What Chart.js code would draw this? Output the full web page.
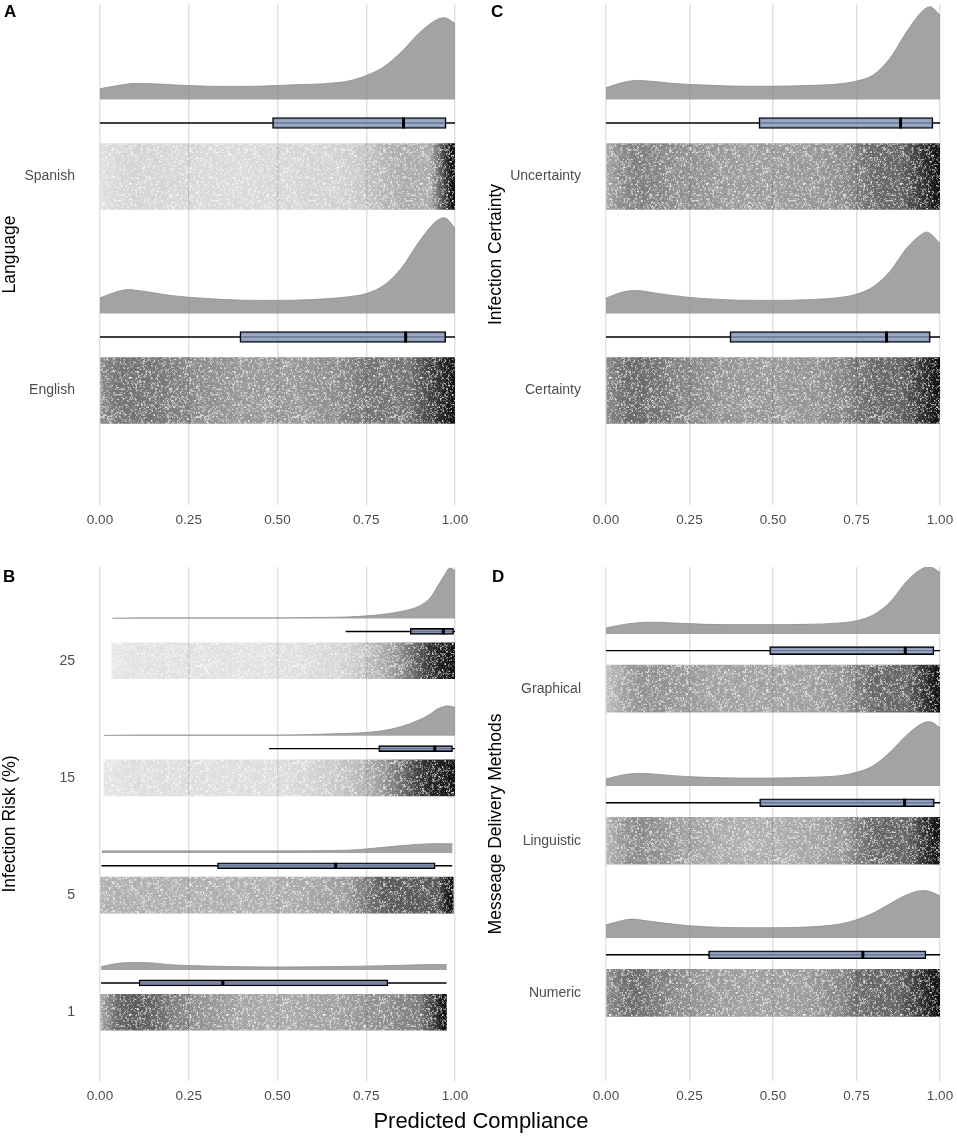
<!DOCTYPE html>
<html>
<head>
<meta charset="utf-8">
<script src="https://cdn.jsdelivr.net/npm/chart.js@4.4.1/dist/chart.umd.min.js"></script>
<style>
  body { margin: 0; width: 957px; height: 1137px; position: relative; overflow: hidden; background: #fff;
         font-family: "Liberation Sans", Arial, sans-serif; }
  .panel { position: absolute; }
  .tag { position: absolute; font-weight: bold; font-size: 17px; line-height: 17px; color: #000; }
  #xtitle { position: absolute; left: 0; width: 962px; top: 1108px; text-align: center;
            font-size: 22px; line-height: 26px; color: #000; }
</style>
</head>
<body>
<div class="panel" style="left:0;top:0;width:480px;height:540px"><canvas id="chartA"></canvas></div>
<div class="panel" style="left:480px;top:0;width:477px;height:540px"><canvas id="chartC"></canvas></div>
<div class="panel" style="left:0;top:540px;width:480px;height:576px"><canvas id="chartB"></canvas></div>
<div class="panel" style="left:480px;top:540px;width:477px;height:576px"><canvas id="chartD"></canvas></div>
<div class="tag" style="left:4px;top:3px">A</div>
<div class="tag" style="left:491px;top:3px">C</div>
<div class="tag" style="left:3px;top:568px">B</div>
<div class="tag" style="left:492px;top:568px">D</div>
<div id="xtitle">Predicted Compliance</div>
<script>
const xTicks = [0, 0.25, 0.5, 0.75, 1];

/* ---- A: language (rows listed bottom to top) ---- */
const langNames = ["English", "Spanish"];
// whisker low, q1, median, q3, whisker high
const langBox = [[0, 0.394, 0.861, 0.974, 1], [0, 0.486, 0.855, 0.975, 1]];
const langSpan = [[0, 1], [0, 1]];
const langDensEnglish = [[0,.073],[.05,.103],[.08,.112],[.1,.109],[.15,.097],[.2,.084],[.25,.076],[.3,.070],[.35,.065],[.4,.062],[.45,.061],[.5,.061],[.55,.062],[.6,.065],[.65,.070],[.7,.078],[.75,.093],[.8,.132],[.85,.214],[.9,.338],[.95,.435],[.97,.447],[1,.400]];
const langDensSpanish = [[0,.050],[.05,.065],[.1,.075],[.15,.073],[.2,.069],[.25,.065],[.3,.062],[.35,.061],[.4,.061],[.45,.062],[.5,.065],[.55,.069],[.6,.071],[.65,.076],[.7,.086],[.75,.112],[.8,.153],[.85,.224],[.9,.312],[.95,.374],[.97,.382],[1,.355]];

/* ---- B: infection risk ---- */
const riskNames = ["1", "5", "15", "25"];
const riskBox = [[0.003, 0.110, 0.346, 0.811, 0.976], [0.004, 0.331, 0.664, 0.944, 0.992], [0.476, 0.785, 0.943, 0.993, 1], [0.692, 0.874, 0.967, 0.996, 1]];
const riskSpan = [[0, 0.976], [0, 0.995], [0.011, 1], [0.033, 1]];
const riskDens1 = [[.003,.028],[.05,.057],[.1,.065],[.15,.060],[.2,.045],[.3,.034],[.4,.028],[.5,.026],[.6,.028],[.7,.031],[.8,.037],[.9,.045],[.95,.048],[.977,.045]];
const riskDens5 = [[.005,.017],[.25,.017],[.5,.017],[.7,.023],[.75,.034],[.8,.048],[.85,.062],[.9,.074],[.95,.079],[.993,.077]];
const riskDens15 = [[.012,.003],[.1,.006],[.2,.006],[.3,.006],[.4,.006],[.5,.006],[.6,.011],[.7,.020],[.75,.028],[.8,.045],[.85,.079],[.9,.136],[.93,.184],[.95,.227],[.97,.250],[.98,.255],[1,.241]];
const riskDens25 = [[.035,.003],[.1,.006],[.2,.006],[.3,.006],[.4,.006],[.5,.006],[.6,.009],[.7,.014],[.75,.023],[.8,.037],[.85,.062],[.9,.108],[.93,.176],[.95,.270],[.97,.369],[.985,.431],[1,.411]];

/* ---- C: infection certainty ---- */
const certNames = ["Certainty", "Uncertainty"];
const certBox = [[0, 0.371, 0.840, 0.971, 1], [0, 0.458, 0.882, 0.979, 1]];
const certSpan = [[0, 1], [0, 1]];
const certDensCertainty = [[0,.072],[.05,.100],[.09,.107],[.15,.095],[.2,.084],[.25,.075],[.3,.069],[.4,.062],[.5,.061],[.6,.064],[.7,.075],[.75,.090],[.8,.125],[.85,.196],[.9,.305],[.95,.375],[.96,.380],[1,.329]];
const certDensUncertainty = [[0,.055],[.05,.079],[.09,.089],[.15,.083],[.2,.075],[.25,.070],[.3,.067],[.4,.062],[.5,.062],[.6,.065],[.7,.073],[.75,.086],[.8,.114],[.85,.192],[.9,.316],[.95,.417],[.97,.433],[1,.394]];

/* ---- D: message delivery ---- */
const msgNames = ["Numeric", "Linguistic", "Graphical"];
const msgBox = [[0, 0.307, 0.769, 0.958, 1], [0, 0.460, 0.894, 0.983, 1], [0, 0.490, 0.896, 0.982, 1]];
const msgSpan = [[0, 1], [0, 1], [0, 1]];
const msgDensNumeric = [[0,.087],[.05,.116],[.08,.125],[.1,.120],[.15,.105],[.2,.092],[.25,.081],[.3,.074],[.4,.068],[.5,.068],[.6,.072],[.7,.092],[.75,.120],[.8,.164],[.85,.225],[.9,.284],[.95,.313],[.97,.306],[1,.278]];
const msgDensLinguistic = [[0,.046],[.05,.072],[.1,.083],[.15,.077],[.2,.068],[.25,.061],[.3,.057],[.4,.052],[.5,.052],[.6,.057],[.7,.068],[.75,.090],[.8,.133],[.85,.221],[.9,.334],[.95,.415],[.97,.422],[1,.383]];
const msgDensGraphical = [[0,.039],[.05,.061],[.1,.074],[.15,.077],[.2,.072],[.25,.068],[.3,.063],[.4,.061],[.5,.061],[.6,.063],[.7,.072],[.75,.087],[.8,.125],[.85,.208],[.9,.345],[.95,.433],[.97,.440],[1,.404]];

/* ---- styling ---- */
const DENS_OFF = 0.36;   // density baseline above the row
const BOX_OFF = 0.25;    // box above the row
const DENS_FILL = "rgba(140,140,140,0.8)";
const BOX_FILL = "rgba(129,147,184,0.8)";
const TICK_COLOR = "#4d4d4d";

Chart.defaults.font.family = "'Liberation Sans', Arial, sans-serif";
Chart.defaults.animation = false;

function hash(i, j) {
  let h = Math.imul(i, 374761393) + Math.imul(j, 668265263) | 0;
  h = Math.imul(h ^ (h >>> 13), 1274126177);
  return ((h ^ (h >>> 16)) >>> 0) / 4294967296;
}

let grain = null;
function grainPattern(c) {
  if (!grain) {
    const n = 97;
    const cv = document.createElement("canvas");
    cv.width = cv.height = n;
    const g = cv.getContext("2d");
    const img = g.createImageData(n, n);
    for (let j = 0; j < n; j++) {
      for (let i = 0; i < n; i++) {
        const v = 0.5 * hash(i, j) + 0.5 * hash(i >> 1, (j >> 1) + 7000);
        const k = (j * n + i) * 4;
        img.data[k] = img.data[k + 1] = img.data[k + 2] = 255;
        img.data[k + 3] = v < 0.5 ? Math.round((0.5 - v) / 0.5 * 230) : 0;
      }
    }
    g.putImageData(img, 0, 0);
    grain = c.chart.ctx.createPattern(cv, "repeat");
  }
  return grain;
}

function densAt(dens, x) {
  if (x <= dens[0][0]) return dens[0][1];
  for (let i = 1; i < dens.length; i++) {
    if (x <= dens[i][0]) {
      const [x0, d0] = dens[i - 1], [x1, d1] = dens[i];
      return d0 + (d1 - d0) * (x - x0) / (x1 - x0);
    }
  }
  return dens[dens.length - 1][1];
}

function stripFill(cfg) {
  return (c) => {
    const i = c.dataIndex;
    const xs = c.chart.scales.x;
    if (i === undefined || !xs) return "rgba(0,0,0,0.3)";
    const p0 = xs.getPixelForValue(0), p1 = xs.getPixelForValue(1);
    if (!isFinite(p0) || !isFinite(p1)) return "rgba(0,0,0,0.3)";
    const g = c.chart.ctx.createLinearGradient(p0, 0, p1, 0);
    const dens = cfg.dens[i], hi = cfg.span[i][1];
    const ink = cfg.ink[i], cap = cfg.cap[i], band = cfg.band[i], floor = cfg.floor[i];
    const a = d => (floor + (1 - floor) * Math.min(cap, 1 - Math.exp(-ink * d))).toFixed(3);
    dens.forEach(([x, d]) => { if (x < band) g.addColorStop(x, `rgba(0,0,0,${a(d)})`); });
    g.addColorStop(band, `rgba(0,0,0,${a(densAt(dens, band))})`);
    g.addColorStop(hi - 0.012, "rgba(0,0,0,0.92)");
    g.addColorStop(hi, "rgba(0,0,0,0.95)");
    return g;
  };
}

function buildPanel(id, cfg) {
  const datasets = [];
  const boxRow = i => i + 1 + BOX_OFF;

  datasets.push({
    type: "line", showLine: false,
    data: cfg.box.map((b, i) => ({ x: b[2], y: boxRow(i) })),
    pointStyle: "line", pointRotation: 90, pointRadius: cfg.boxPx / 2,
    pointBorderWidth: 3, pointBorderColor: "#000", pointBackgroundColor: "#000"
  });
  datasets.push({
    type: "bar", indexAxis: "y", grouped: false,
    data: cfg.box.map((b, i) => ({ x: [b[1], b[3]], y: boxRow(i) })),
    backgroundColor: BOX_FILL, borderColor: "#000", borderWidth: 1.4, borderSkipped: false,
    barThickness: cfg.boxPx
  });
  cfg.box.forEach((b, i) => datasets.push({
    type: "line",
    data: [{ x: b[0], y: boxRow(i) }, { x: b[4], y: boxRow(i) }],
    borderColor: "#000", borderWidth: 1.4, pointRadius: 0
  }));
  const stripData = cfg.span.map((s, i) => ({ x: s, y: i + 1 }));
  datasets.push({
    type: "bar", indexAxis: "y", grouped: false, data: stripData,
    backgroundColor: grainPattern, borderWidth: 0, barThickness: cfg.stripPx
  });
  datasets.push({
    type: "bar", indexAxis: "y", grouped: false, data: stripData,
    backgroundColor: stripFill(cfg), borderWidth: 0, barThickness: cfg.stripPx
  });
  cfg.dens.forEach((d, i) => datasets.push({
    type: "line",
    data: d.map(([x, h]) => ({ x: x, y: i + 1 + DENS_OFF + h })),
    fill: { value: i + 1 + DENS_OFF },
    backgroundColor: DENS_FILL, borderColor: DENS_FILL, borderWidth: 1,
    pointRadius: 0, tension: 0.4, cubicInterpolationMode: "monotone"
  }));

  const chart = new Chart(document.getElementById(id), {
    type: "line",
    data: { datasets: datasets },
    options: {
      responsive: true,
      maintainAspectRatio: false,
      events: [],
      layout: { autoPadding: false, padding: { top: cfg.padTop, right: cfg.padRight, left: 0, bottom: 0 } },
      plugins: { legend: { display: false }, tooltip: { enabled: false } },
      scales: {
        x: {
          type: "linear", min: 0, max: 1, offset: false,
          afterBuildTicks: s => { s.ticks = xTicks.map(v => ({ value: v })); },
          afterFit: s => { s.height = 35; s.paddingLeft = 0; s.paddingRight = 0; },
          grid: { color: "#e1e1e1", lineWidth: 1.5, drawTicks: false },
          border: { display: false },
          ticks: { padding: 7, color: TICK_COLOR, font: { size: 13.5 }, callback: v => v.toFixed(2), maxRotation: 0 }
        },
        y: {
          type: "linear", min: cfg.yMin, max: cfg.yMax, offset: false,
          afterBuildTicks: s => { s.ticks = cfg.names.map((n, i) => ({ value: i + 1 })); },
          afterFit: s => { s.width = cfg.axisWidth; s.paddingTop = 0; s.paddingBottom = 0; },
          grid: { display: false, drawTicks: false },
          border: { display: false },
          ticks: { padding: 25, color: TICK_COLOR, font: { size: 14 }, autoSkip: false,
                   callback: v => cfg.names[Math.round(v) - 1] },
          title: { display: true, text: cfg.title, color: "#000", font: { size: 17.5 },
                   padding: { top: cfg.titlePad, bottom: 0 } }
        }
      }
    }
  });
  // second pass so the strip gradients see the final scale pixels
  chart.update("none");
}

buildPanel("chartA", {
  names: langNames, box: langBox, span: langSpan, dens: [langDensEnglish, langDensSpanish],
  ink: [8.5, 2.0], cap: [0.55, 0.3], band: [0.87, 0.93], floor: [0, 0.04],
  yMin: 0.465, yMax: 2.806, axisWidth: 100, padTop: 4, padRight: 25, titlePad: 0,
  boxPx: 11, stripPx: 66, title: "Language"
});
buildPanel("chartC", {
  names: certNames, box: certBox, span: certSpan, dens: [certDensCertainty, certDensUncertainty],
  ink: [8.5, 8], cap: [0.6, 0.6], band: [0.88, 0.88], floor: [0, 0],
  yMin: 0.465, yMax: 2.806, axisWidth: 126, padTop: 4, padRight: 17, titlePad: 6,
  boxPx: 11, stripPx: 66, title: "Infection Certainty"
});
buildPanel("chartB", {
  names: riskNames, box: riskBox, span: riskSpan, dens: [riskDens1, riskDens5, riskDens15, riskDens25],
  ink: [16, 22, 10, 9], cap: [0.65, 0.65, 0.85, 0.85], band: [0.9, 0.95, 0.95, 0.95], floor: [0, 0, 0.08, 0.07],
  yMin: 0.413, yMax: 4.80, axisWidth: 100, padTop: 27, padRight: 25, titlePad: 0,
  boxPx: 6, stripPx: 36, title: "Infection Risk (%)"
});
buildPanel("chartD", {
  names: msgNames, box: msgBox, span: msgSpan, dens: [msgDensNumeric, msgDensLinguistic, msgDensGraphical],
  ink: [7, 7.5, 7.5], cap: [0.6, 0.6, 0.6], band: [0.87, 0.9, 0.9], floor: [0, 0, 0],
  yMin: 0.42, yMax: 3.80, axisWidth: 126, padTop: 27, padRight: 17, titlePad: 6,
  boxPx: 8, stripPx: 47, title: "Messeage Delivery Methods"
});
</script>
</body>
</html>
